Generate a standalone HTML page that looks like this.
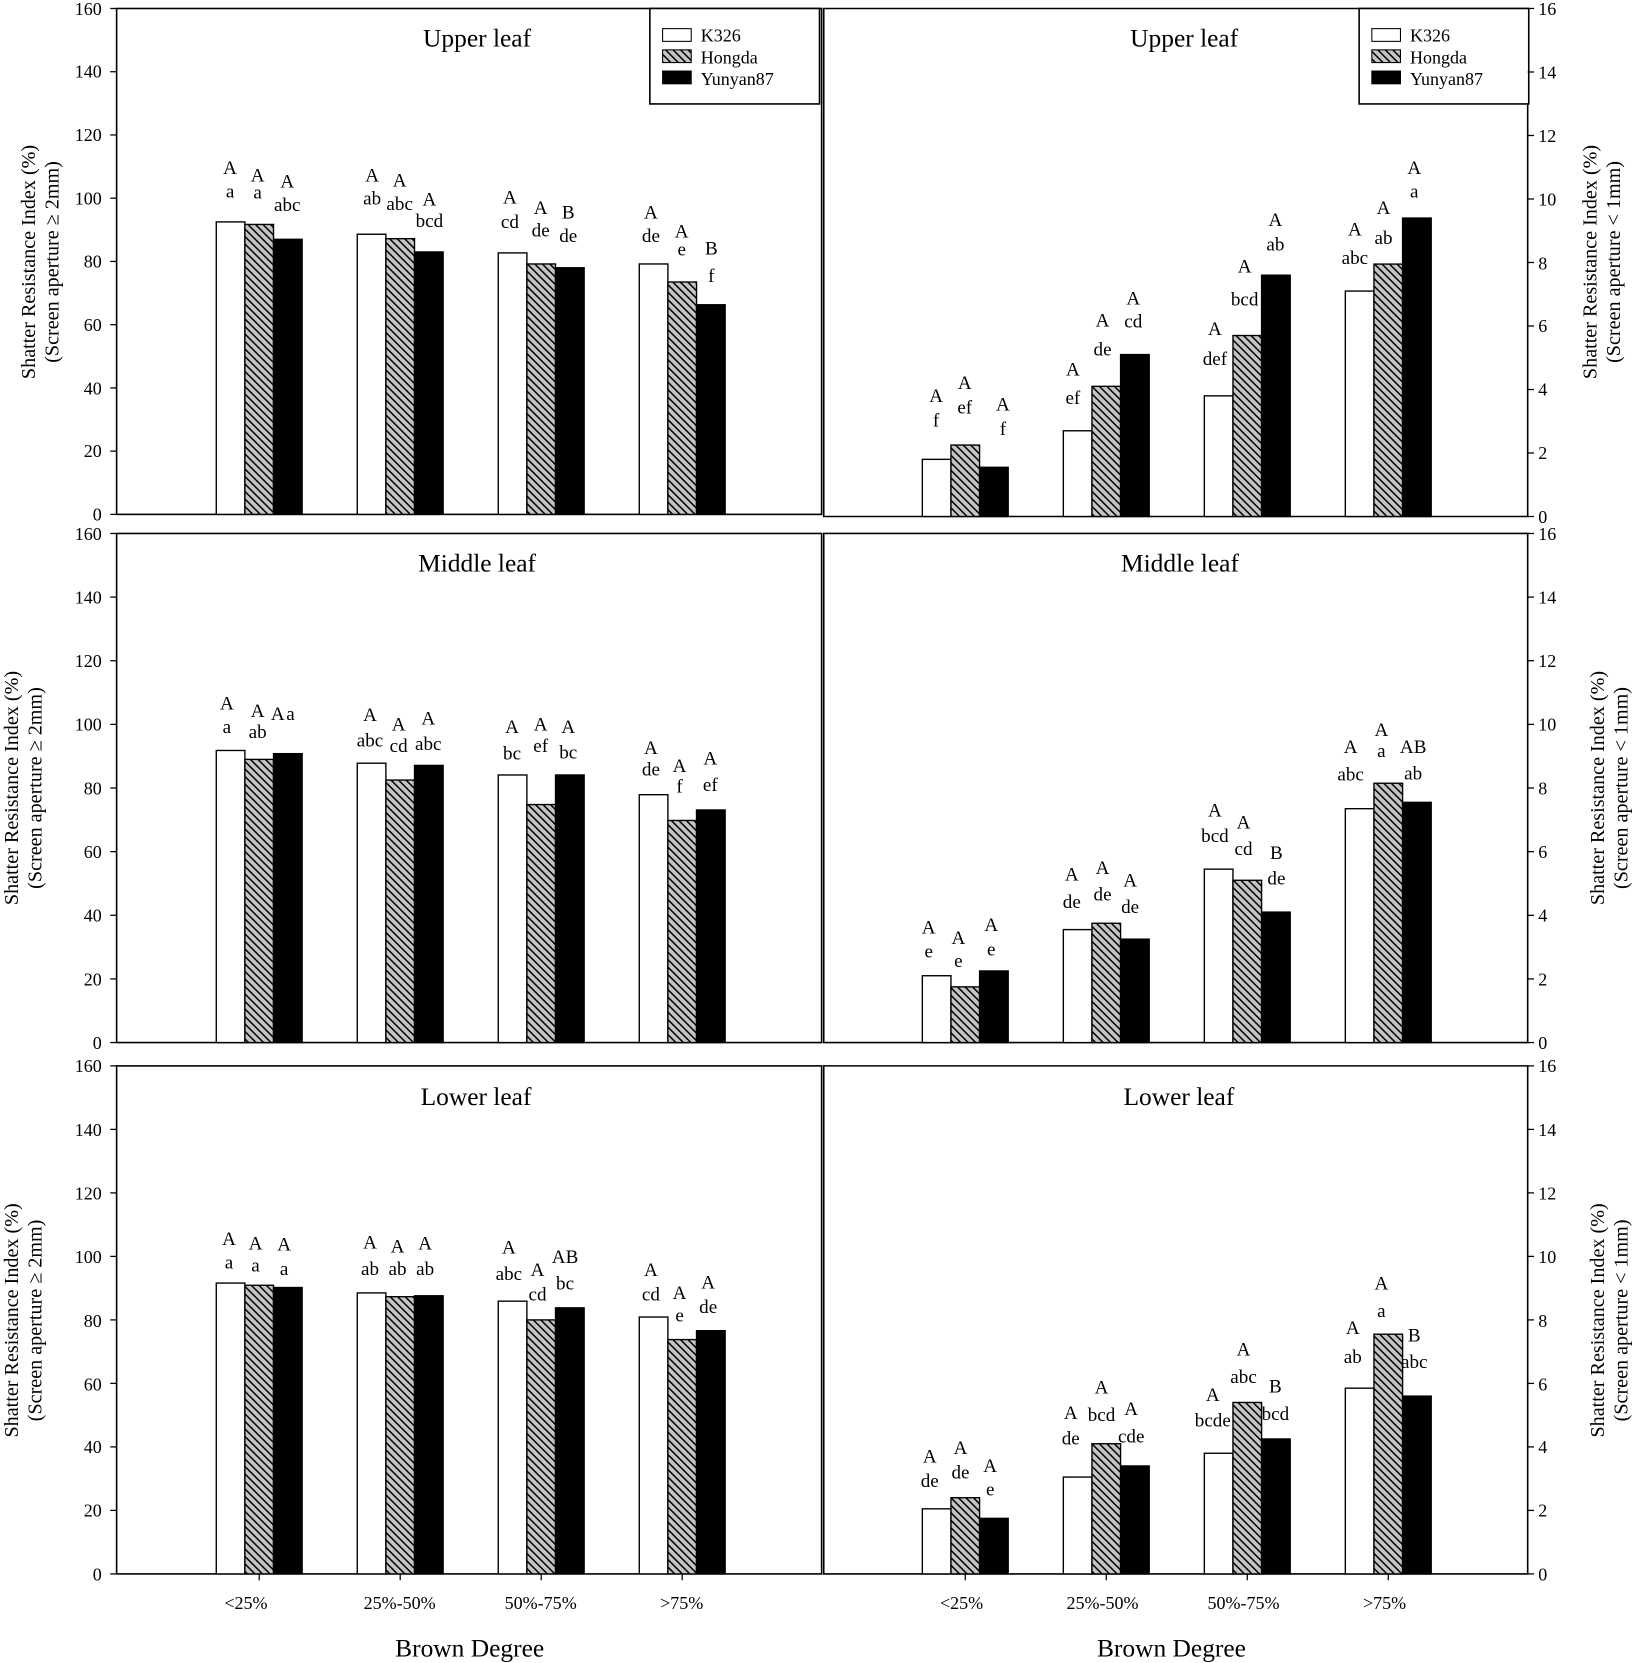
<!DOCTYPE html>
<html><head><meta charset="utf-8"><style>
html,body{margin:0;padding:0;background:#fff}
svg{display:block}
text{font-family:"Liberation Serif",serif;fill:#000}
.t{font-size:18px;text-anchor:middle}
.tk{font-size:17px}
.ti{font-size:24px;text-anchor:middle}
.ax{font-size:19px;text-anchor:middle}
.lg{font-size:17px}
</style></head><body>
<svg id="s" width="1639" height="1663" viewBox="0 0 1546 1568" preserveAspectRatio="none" xmlns="http://www.w3.org/2000/svg">
<defs>
<pattern id="h" patternUnits="userSpaceOnUse" width="5" height="5" patternTransform="rotate(-45)">
<rect width="5" height="5" fill="#c4c4c4"/><rect x="0" y="0" width="1.4" height="5" fill="#000"/>
</pattern>
</defs>
<g id="frames" stroke="#000" stroke-width="1.5" fill="none">
<rect x="110" y="8" width="665" height="477"/>
<rect x="110" y="503" width="665" height="480"/>
<rect x="110" y="1005" width="665" height="479"/>
<path d="M777 8H1441V487H777Z"/>
<path d="M777 503H1441V983H777Z"/>
<path d="M777 1005H1441V1484H777Z"/>
<rect x="613" y="8" width="160" height="90" fill="#fff"/>
<rect x="1282" y="8" width="160" height="90" fill="#fff"/>
</g>
<g id="bars"></g>
<g id="ticks" stroke="#000" stroke-width="1.2"></g>
<g id="legend">
<rect x="625" y="27" width="27" height="12" fill="#fff" stroke="#000"/>
<rect x="625" y="47" width="27" height="12" fill="url(#h)" stroke="#000"/>
<rect x="625" y="67" width="27" height="12" fill="#000" stroke="#000"/>
<text class="lg" x="661" y="39">K326</text><text class="lg" x="661" y="60">Hongda</text><text class="lg" x="661" y="80">Yunyan87</text>
<rect x="1294" y="27" width="27" height="12" fill="#fff" stroke="#000"/>
<rect x="1294" y="47" width="27" height="12" fill="url(#h)" stroke="#000"/>
<rect x="1294" y="67" width="27" height="12" fill="#000" stroke="#000"/>
<text class="lg" x="1330" y="39">K326</text><text class="lg" x="1330" y="60">Hongda</text><text class="lg" x="1330" y="80">Yunyan87</text>
</g>
<g>
<text class="ti" x="450" y="44">Upper leaf</text><text class="ti" x="1117" y="44">Upper leaf</text>
<text class="ti" x="450" y="539">Middle leaf</text><text class="ti" x="1113" y="539">Middle leaf</text>
<text class="ti" x="449" y="1042">Lower leaf</text><text class="ti" x="1112" y="1042">Lower leaf</text>
</g>
<g class="tk" text-anchor="end">
<text x="96" y="14">160</text><text x="96" y="73">140</text><text x="96" y="133">120</text><text x="96" y="193">100</text><text x="96" y="252">80</text><text x="96" y="312">60</text><text x="96" y="372">40</text><text x="96" y="431">20</text><text x="96" y="491">0</text>
<text x="96" y="509">160</text><text x="96" y="569">140</text><text x="96" y="629">120</text><text x="96" y="689">100</text><text x="96" y="749">80</text><text x="96" y="809">60</text><text x="96" y="869">40</text><text x="96" y="929">20</text><text x="96" y="989">0</text>
<text x="96" y="1011">160</text><text x="96" y="1071">140</text><text x="96" y="1131">120</text><text x="96" y="1191">100</text><text x="96" y="1251">80</text><text x="96" y="1311">60</text><text x="96" y="1370">40</text><text x="96" y="1430">20</text><text x="96" y="1490">0</text>
</g>
<g class="tk" text-anchor="start">
<text x="1451" y="14">16</text><text x="1451" y="74">14</text><text x="1451" y="134">12</text><text x="1451" y="194">10</text><text x="1451" y="254">8</text><text x="1451" y="313">6</text><text x="1451" y="373">4</text><text x="1451" y="433">2</text><text x="1451" y="493">0</text>
<text x="1451" y="509">16</text><text x="1451" y="569">14</text><text x="1451" y="629">12</text><text x="1451" y="689">10</text><text x="1451" y="749">8</text><text x="1451" y="809">6</text><text x="1451" y="869">4</text><text x="1451" y="929">2</text><text x="1451" y="989">0</text>
<text x="1451" y="1011">16</text><text x="1451" y="1071">14</text><text x="1451" y="1131">12</text><text x="1451" y="1191">10</text><text x="1451" y="1251">8</text><text x="1451" y="1311">6</text><text x="1451" y="1370">4</text><text x="1451" y="1430">2</text><text x="1451" y="1490">0</text>
</g>
<g class="ax">
<text transform="translate(33,247) rotate(-90)">Shatter Resistance Index (%)</text>
<text transform="translate(55,247) rotate(-90)">(Screen aperture ≥  2mm)</text>
<text transform="translate(17,743) rotate(-90)">Shatter Resistance Index (%)</text>
<text transform="translate(39,743) rotate(-90)">(Screen aperture ≥  2mm)</text>
<text transform="translate(17,1245) rotate(-90)">Shatter Resistance Index (%)</text>
<text transform="translate(39,1245) rotate(-90)">(Screen aperture ≥  2mm)</text>
<text transform="translate(1506,247) rotate(-90)">Shatter Resistance Index (%)</text>
<text transform="translate(1528,247) rotate(-90)">(Screen aperture &lt; 1mm)</text>
<text transform="translate(1513,743) rotate(-90)">Shatter Resistance Index (%)</text>
<text transform="translate(1535,743) rotate(-90)">(Screen aperture &lt; 1mm)</text>
<text transform="translate(1513,1245) rotate(-90)">Shatter Resistance Index (%)</text>
<text transform="translate(1535,1245) rotate(-90)">(Screen aperture &lt; 1mm)</text>
</g>
<g class="tk" text-anchor="middle">
<text x="232" y="1517">&lt;25%</text><text x="377" y="1517">25%-50%</text><text x="510" y="1517">50%-75%</text><text x="643" y="1517">&gt;75%</text>
<text x="907" y="1517">&lt;25%</text><text x="1040" y="1517">25%-50%</text><text x="1173" y="1517">50%-75%</text><text x="1306" y="1517">&gt;75%</text>
</g>
<text class="ti" x="443" y="1562">Brown Degree</text><text class="ti" x="1105" y="1562">Brown Degree</text>
<g class="t">
<text x="217" y="164">A</text><text x="217" y="186">a</text>
<text x="243" y="171">A</text><text x="243" y="187">a</text>
<text x="271" y="177">A</text><text x="271" y="199">abc</text>
<text x="351" y="171">A</text><text x="351" y="193">ab</text>
<text x="377" y="176">A</text><text x="377" y="198">abc</text>
<text x="405" y="194">A</text><text x="405" y="214">bcd</text>
<text x="481" y="192">A</text><text x="481" y="215">cd</text>
<text x="510" y="202">A</text><text x="510" y="223">de</text>
<text x="536" y="206">B</text><text x="536" y="228">de</text>
<text x="614" y="206">A</text><text x="614" y="228">de</text>
<text x="643" y="224">A</text><text x="643" y="241">e</text>
<text x="671" y="240">B</text><text x="671" y="266">f</text>
<text x="883" y="379">A</text><text x="883" y="402">f</text>
<text x="910" y="367">A</text><text x="910" y="390">ef</text>
<text x="946" y="387">A</text><text x="946" y="410">f</text>
<text x="1012" y="354">A</text><text x="1012" y="381">ef</text>
<text x="1040" y="308">A</text><text x="1040" y="335">de</text>
<text x="1069" y="287">A</text><text x="1069" y="309">cd</text>
<text x="1146" y="316">A</text><text x="1146" y="344">def</text>
<text x="1174" y="257">A</text><text x="1174" y="288">bcd</text>
<text x="1203" y="213">A</text><text x="1203" y="236">ab</text>
<text x="1278" y="222">A</text><text x="1278" y="249">abc</text>
<text x="1305" y="202">A</text><text x="1305" y="230">ab</text>
<text x="1334" y="164">A</text><text x="1334" y="186">a</text>
<text x="214" y="669">A</text><text x="214" y="691">a</text>
<text x="243" y="676">A</text><text x="243" y="696">ab</text>
<text x="262" y="679">A</text><text x="274" y="679">a</text>
<text x="349" y="680">A</text><text x="349" y="704">abc</text>
<text x="376" y="689">A</text><text x="376" y="709">cd</text>
<text x="404" y="683">A</text><text x="404" y="707">abc</text>
<text x="483" y="691">A</text><text x="483" y="716">bc</text>
<text x="510" y="689">A</text><text x="510" y="709">ef</text>
<text x="536" y="691">A</text><text x="536" y="715">bc</text>
<text x="614" y="711">A</text><text x="614" y="731">de</text>
<text x="641" y="728">A</text><text x="641" y="747">f</text>
<text x="670" y="721">A</text><text x="670" y="746">ef</text>
<text x="876" y="880">A</text><text x="876" y="903">e</text>
<text x="904" y="890">A</text><text x="904" y="912">e</text>
<text x="935" y="878">A</text><text x="935" y="901">e</text>
<text x="1011" y="830">A</text><text x="1011" y="856">de</text>
<text x="1040" y="824">A</text><text x="1040" y="849">de</text>
<text x="1066" y="836">A</text><text x="1066" y="861">de</text>
<text x="1146" y="770">A</text><text x="1146" y="794">bcd</text>
<text x="1173" y="781">A</text><text x="1173" y="806">cd</text>
<text x="1204" y="810">B</text><text x="1204" y="834">de</text>
<text x="1274" y="710">A</text><text x="1274" y="736">abc</text>
<text x="1303" y="694">A</text><text x="1303" y="714">a</text>
<text x="1333" y="710">AB</text><text x="1333" y="735">ab</text>
<text x="216" y="1174">A</text><text x="216" y="1196">a</text>
<text x="241" y="1178">A</text><text x="241" y="1199">a</text>
<text x="268" y="1179">A</text><text x="268" y="1202">a</text>
<text x="349" y="1177">A</text><text x="349" y="1202">ab</text>
<text x="375" y="1181">A</text><text x="375" y="1202">ab</text>
<text x="401" y="1178">A</text><text x="401" y="1202">ab</text>
<text x="480" y="1182">A</text><text x="480" y="1207">abc</text>
<text x="507" y="1203">A</text><text x="507" y="1226">cd</text>
<text x="533" y="1191">AB</text><text x="533" y="1216">bc</text>
<text x="614" y="1203">A</text><text x="614" y="1226">cd</text>
<text x="641" y="1225">A</text><text x="641" y="1246">e</text>
<text x="668" y="1215">A</text><text x="668" y="1238">de</text>
<text x="877" y="1379">A</text><text x="877" y="1402">de</text>
<text x="906" y="1371">A</text><text x="906" y="1394">de</text>
<text x="934" y="1388">A</text><text x="934" y="1410">e</text>
<text x="1010" y="1338">A</text><text x="1010" y="1362">de</text>
<text x="1039" y="1314">A</text><text x="1039" y="1340">bcd</text>
<text x="1067" y="1334">A</text><text x="1067" y="1360">cde</text>
<text x="1144" y="1321">A</text><text x="1144" y="1345">bcde</text>
<text x="1173" y="1278">A</text><text x="1173" y="1304">abc</text>
<text x="1203" y="1313">B</text><text x="1203" y="1339">bcd</text>
<text x="1276" y="1258">A</text><text x="1276" y="1285">ab</text>
<text x="1303" y="1216">A</text><text x="1303" y="1242">a</text>
<text x="1334" y="1265">B</text><text x="1334" y="1290">abc</text>
</g>
<script>
(function(){
var NS="http://www.w3.org/2000/svg",bars=document.getElementById('bars'),tk=document.getElementById('ticks');
function el(p,n,a){var e=document.createElementNS(NS,n);for(var k in a)e.setAttribute(k,a[k]);p.appendChild(e);}
var fills=['#fff','url(#h)','#000'];
var P=[
 {x:[204,337,470,603],b:485,t:8,m:160,v:[92.5,91.7,87,88.6,87.2,83,82.7,79.2,78,79.2,73.5,66.3]},
 {x:[204,337,470,603],b:983,t:503,m:160,v:[91.8,89,90.8,87.8,82.5,87.1,84.1,74.8,84.1,77.9,69.8,73.1]},
 {x:[204,337,470,603],b:1484,t:1005,m:160,v:[91.6,90.9,90.2,88.5,87.3,87.6,85.9,80,83.8,80.9,73.8,76.6]},
 {x:[870,1003,1136,1269],b:487,t:8,m:16,v:[1.8,2.25,1.55,2.7,4.1,5.1,3.8,5.7,7.6,7.1,7.95,9.4]},
 {x:[870,1003,1136,1269],b:983,t:503,m:16,v:[2.1,1.75,2.25,3.55,3.75,3.25,5.45,5.1,4.1,7.35,8.15,7.55]},
 {x:[870,1003,1136,1269],b:1484,t:1005,m:16,v:[2.05,2.4,1.75,3.05,4.1,3.4,3.8,5.4,4.25,5.85,7.55,5.6]}];
P.forEach(function(p,pi){
 var s=(p.b-p.t)/p.m;
 for(var g=0;g<4;g++)for(var j=0;j<3;j++){var v=p.v[g*3+j],h=v*s;
  el(bars,'rect',{x:p.x[g]+j*27,y:p.b-h,width:27,height:h,fill:fills[j],stroke:'#000','stroke-width':1.3});}
 for(var i=0;i<=8;i++){var y=p.t+(p.b-p.t)*i/8;
  if(pi<3)el(tk,'line',{x1:104,x2:110,y1:y,y2:y});else el(tk,'line',{x1:1441,x2:1447,y1:y,y2:y});}
 if(pi==2||pi==5)for(var g2=0;g2<4;g2++){var cx=p.x[g2]+40.5;el(tk,'line',{x1:cx,x2:cx,y1:p.b,y2:p.b+6});}
});
})();
</script>
</svg>
</body></html>
